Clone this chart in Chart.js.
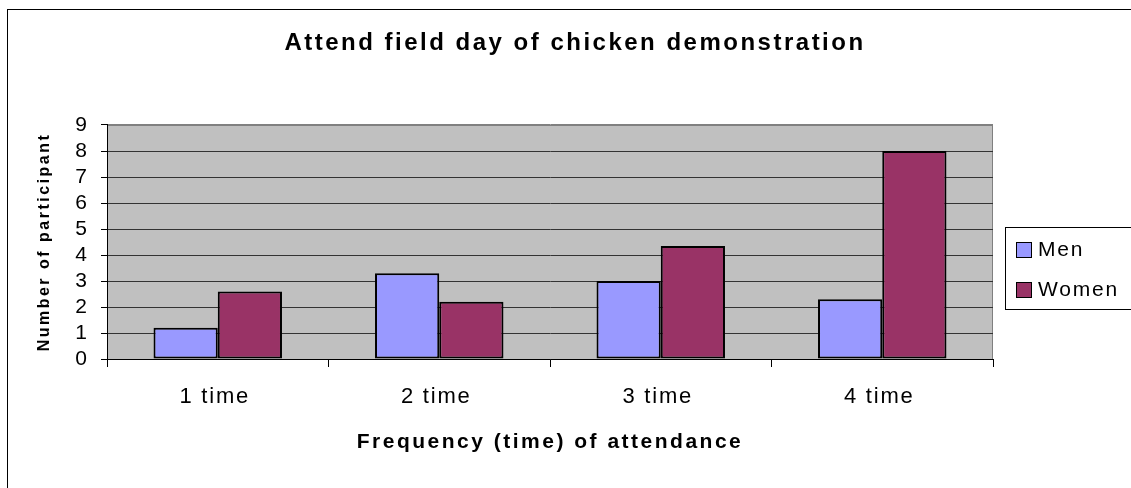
<!DOCTYPE html>
<html>
<head>
<meta charset="utf-8">
<script src="https://cdn.jsdelivr.net/npm/chart.js@4/dist/chart.umd.min.js"></script>
<style>
  html, body { margin: 0; padding: 0; background: #fff; }
  canvas { display: block; }
</style>
</head>
<body>
<canvas id="chart" width="1131" height="488"></canvas>
<script>
const categories = ['1 time', '2 time', '3 time', '4 time'];
const seriesNames = ['Men', 'Women'];
const menValues = [1.2, 3.3, 3.0, 2.3];
const womenValues = [2.6, 2.2, 4.35, 8.0];
const yMin = 0;
const yMax = 9;
const yStep = 1;

const FONT = "'Liberation Sans', Arial, sans-serif";

// gray plot area + frame around the whole picture
const backdrop = {
  id: 'backdrop',
  beforeDraw(chart) {
    const { ctx, chartArea: a } = chart;
    ctx.save();
    ctx.fillStyle = '#c0c0c0';
    ctx.fillRect(a.left, a.top, a.right - a.left, a.bottom - a.top);
    ctx.strokeStyle = '#808080';
    ctx.lineWidth = 1;
    ctx.strokeRect(a.left + 0.5, a.top + 0.5, a.right - a.left - 1, a.bottom - a.top);
    ctx.strokeStyle = '#000';
    ctx.strokeRect(7.5, 9.5, 2000, 2000);
    ctx.restore();
    // the bold titles are spaced out like the original
    ctx.letterSpacing = '2.5px';
  },
  afterDatasetsDraw(chart) {
    chart.ctx.letterSpacing = '1.8px';
  }
};

// legend box on the right
const sideLegend = {
  id: 'sideLegend',
  afterDraw(chart) {
    const ctx = chart.ctx;
    ctx.save();
    ctx.letterSpacing = '1.8px';
    ctx.strokeStyle = '#000';
    ctx.lineWidth = 1;
    ctx.strokeRect(1005.5, 227.5, 300, 82);
    ctx.font = '21px ' + FONT;
    ctx.textBaseline = 'middle';
    chart.data.datasets.forEach((ds, i) => {
      const y = 242 + i * 40;
      ctx.fillStyle = ds.backgroundColor;
      ctx.fillRect(1016, y, 15, 15);
      ctx.strokeRect(1016.5, y + 0.5, 15, 15);
      ctx.fillStyle = '#000';
      ctx.fillText(ds.label, 1038, y + 8);
    });
    ctx.restore();
  }
};

new Chart(document.getElementById('chart'), {
  type: 'bar',
  data: {
    labels: categories,
    datasets: [
      {
        label: seriesNames[0],
        data: menValues,
        backgroundColor: '#9999ff',
        borderColor: '#000',
        borderWidth: 2,
        borderSkipped: false,
        yAxisID: 'y'
      },
      {
        label: seriesNames[1],
        data: womenValues,
        backgroundColor: '#993366',
        borderColor: '#000',
        borderWidth: 2,
        borderSkipped: false,
        yAxisID: 'y'
      }
    ]
  },
  options: {
    responsive: false,
    animation: false,
    devicePixelRatio: 1,
    categoryPercentage: 0.58,
    barPercentage: 1.0,
    layout: { padding: { top: 0, left: 19, right: 0, bottom: 0 } },
    plugins: {
      legend: { display: false },
      tooltip: { enabled: false },
      title: {
        display: true,
        text: 'Attend field day of chicken demonstration',
        color: '#000',
        font: { family: FONT, size: 24, weight: 'bold', lineHeight: 1.2 },
        padding: { top: 28.6, bottom: 67.6 }
      }
    },
    scales: {
      x: {
        afterFit: (s) => { s.height = 129; },
        grid: {
          offset: true,
          drawOnChartArea: false,
          drawTicks: true,
          tickLength: 8,
          tickColor: '#000',
          color: '#000'
        },
        border: { color: '#000', width: 1 },
        ticks: {
          z: 1,
          color: '#000',
          padding: 16.5,
          labelOffset: -3,
          autoSkip: false,
          font: { family: FONT, size: 22 }
        },
        title: {
          display: true,
          text: 'Frequency (time) of attendance',
          color: '#000',
          font: { family: FONT, size: 21, weight: 'bold', lineHeight: 1.2 },
          padding: { top: 0, bottom: 33 }
        }
      },
      y: {
        min: yMin,
        max: yMax,
        afterFit: (s) => { s.width = 88; },
        grid: {
          color: (c) => (c.tick && c.tick.value === yMax ? '#808080' : '#333'),
          tickColor: '#000',
          tickLength: 6,
          lineWidth: 1
        },
        border: { color: '#000', width: 1 },
        ticks: {
          z: 1,
          stepSize: yStep,
          autoSkip: false,
          color: '#000',
          padding: 12.2,
          font: { family: FONT, size: 21 }
        },
        title: {
          display: true,
          text: 'Number of participant',
          color: '#000',
          font: { family: FONT, size: 16, weight: 'bold', lineHeight: 1.2 },
          padding: { top: 15.5, bottom: 0 }
        }
      },
      // empty right-hand box that keeps room for the legend
      yRight: {
        position: 'right',
        display: true,
        afterFit: (s) => { s.width = 138; },
        grid: { display: false, drawOnChartArea: false },
        border: { display: false },
        ticks: { display: false }
      }
    }
  },
  plugins: [backdrop, sideLegend]
});
</script>
</body>
</html>
